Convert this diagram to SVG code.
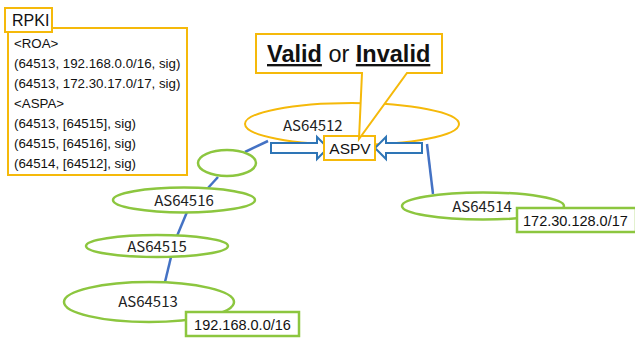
<svg xmlns="http://www.w3.org/2000/svg" width="635" height="339" viewBox="0 0 635 339">
  <style>
    .green { fill: #ffffff; stroke: #8cc63f; stroke-width: 2.5; }
    .orange { fill: #ffffff; stroke: #f5b90a; stroke-width: 2; }
    .link { stroke: #4472c4; stroke-width: 2.5; fill: none; }
    .arrow { fill: #ffffff; stroke: #2e75b6; stroke-width: 2; stroke-linejoin: miter; }
    .as { font-family: "Noto Sans CJK JP", "Noto Sans", sans-serif; font-size: 15px; fill: #222222; }
    .txt { font-family: "Liberation Sans", Arial, sans-serif; fill: #111111; }
    .rpki { font-family: "Liberation Sans", Arial, sans-serif; font-size: 13.3px; fill: #111111; }
  </style>

  <!-- links between ASes -->
  <g id="connectors">
    <line class="link" x1="268" y1="141" x2="245" y2="152"/>
    <line class="link" x1="218" y1="177" x2="208" y2="188"/>
    <line class="link" x1="187" y1="212" x2="177" y2="236"/>
    <line class="link" x1="171" y1="257" x2="165" y2="282"/>
    <line class="link" x1="427" y1="144" x2="433" y2="194"/>
  </g>

  <!-- RPKI repository -->
  <g id="rpki">
    <rect class="orange" x="8" y="28" width="179" height="147"/>
    <rect class="orange" x="5" y="8" width="47" height="24"/>
    <text class="txt" x="12" y="26" font-size="16">RPKI</text>
    <text class="rpki" x="14" y="48">&lt;ROA&gt;</text>
    <text class="rpki" x="14" y="68">(64513, 192.168.0.0/16, sig)</text>
    <text class="rpki" x="14" y="88">(64513, 172.30.17.0/17, sig)</text>
    <text class="rpki" x="14" y="108">&lt;ASPA&gt;</text>
    <text class="rpki" x="14" y="128">(64513, [64515], sig)</text>
    <text class="rpki" x="14" y="148">(64515, [64516], sig)</text>
    <text class="rpki" x="14" y="168">(64514, [64512], sig)</text>
  </g>

  <!-- AS64512 with ASPV -->
  <g id="as64512">
    <ellipse class="orange" cx="352" cy="124" rx="107" ry="21"/>
    <text class="as" x="283" y="131">AS64512</text>
  </g>

  <g id="arrow-left">
    <path class="arrow" d="M271,143 H317 V137 L328,148 L317,159 V153 H271 Z"/>
  </g>
  <g id="arrow-right">
    <path class="arrow" d="M422,143 H386 V137 L375,148 L386,159 V153 H422 Z"/>
  </g>

  <g id="aspv">
    <rect class="orange" x="324" y="136" width="51" height="24"/>
    <text class="txt" x="350" y="153.5" font-size="15.5" text-anchor="middle">ASPV</text>
  </g>

  <!-- verdict callout -->
  <g id="verdict">
    <path class="orange" d="M256,34 H442 V73 H407 L359,139 L362,73 H256 Z"/>
    <text class="txt" x="267" y="62" font-size="23.5"><tspan font-weight="bold" text-decoration="underline">Valid</tspan> or <tspan font-weight="bold" text-decoration="underline">Invalid</tspan></text>
  </g>

  <!-- unnamed AS -->
  <g id="as-unnamed">
    <ellipse class="green" cx="227" cy="163" rx="29" ry="13"/>
  </g>

  <g id="as64516">
    <ellipse class="green" cx="184" cy="200" rx="71" ry="12.5"/>
    <text class="as" x="184" y="206" text-anchor="middle">AS64516</text>
  </g>

  <g id="as64515">
    <ellipse class="green" cx="157" cy="246" rx="71" ry="11"/>
    <text class="as" x="157" y="252" text-anchor="middle">AS64515</text>
  </g>

  <g id="as64513">
    <ellipse class="green" cx="149" cy="302" rx="85" ry="20"/>
    <text class="as" x="148" y="307" text-anchor="middle">AS64513</text>
  </g>

  <g id="prefix-192">
    <rect class="green" x="186" y="312" width="113" height="24"/>
    <text class="txt" x="242.5" y="330" font-size="14.5" text-anchor="middle">192.168.0.0/16</text>
  </g>

  <g id="as64514">
    <ellipse class="green" cx="483" cy="206" rx="81" ry="13.5"/>
    <text class="as" x="482" y="212" text-anchor="middle">AS64514</text>
  </g>

  <g id="prefix-172">
    <rect class="green" x="517" y="208" width="119" height="24"/>
    <text class="txt" x="523" y="226" font-size="14.5">172.30.128.0/17</text>
  </g>
</svg>
